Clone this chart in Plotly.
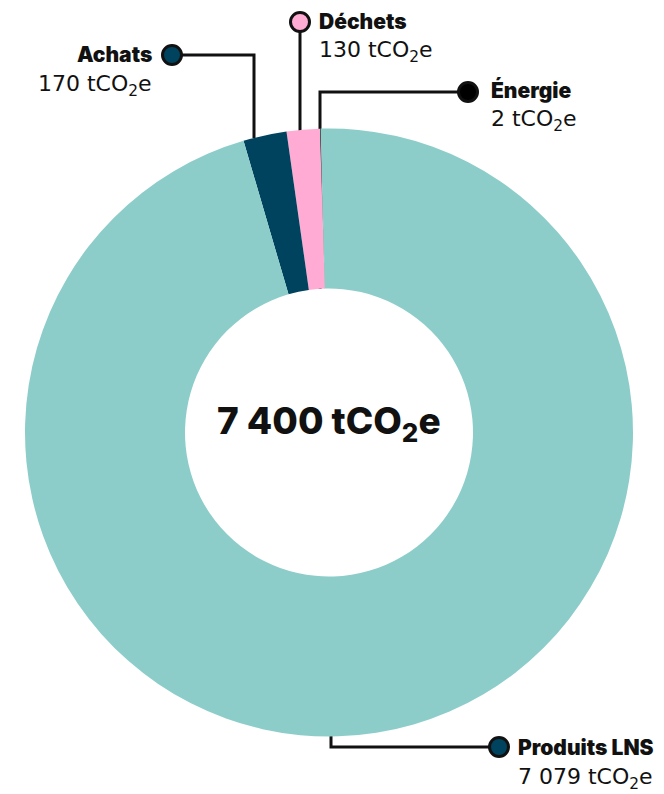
import plotly.graph_objects as go

# ---- data ----
categories = ["Énergie", "Déchets", "Achats", "Produits LNS"]
values = [2, 130, 170, 7079]
value_labels = ["2", "130", "170", "7 079"]
total_label = "7 400"
unit = "tCO<sub>2</sub>e"
colors = ["#000000", "#FFABD3", "#00435E", "#8CCDCA"]
dot_colors = ["#000000", "#FFABD3", "#00435E", "#00435E"]

W, H = 664, 794
cx, cy, R = 329, 432.5, 304
hole = 144 / 304

fig = go.Figure()

fig.add_trace(go.Pie(
    labels=categories, values=values, sort=False,
    direction="counterclockwise", rotation=-1.7,
    hole=hole, textinfo="none", hoverinfo="label+value",
    marker=dict(colors=colors, line=dict(width=0)),
    domain=dict(x=[(cx - R) / W, (cx + R) / W],
                y=[(H - cy - R) / H, (H - cy + R) / H]),
    showlegend=False,
))

# leader lines (pixel layout on an overlay axis)
leaders = {
    "Achats": dict(path=[(254, 138), (254, 55), (172, 55)], dot=(172, 55)),
    "Déchets": dict(path=[(300, 131), (300, 22)], dot=(300, 22)),
    "Énergie": dict(path=[(320, 289), (320, 92), (468, 92)], dot=(468, 92)),
    "Produits LNS": dict(path=[(331, 736), (331, 747), (499, 747)], dot=(499, 747)),
}
for name, ld in leaders.items():
    xs = [p[0] for p in ld["path"]]
    ys = [p[1] for p in ld["path"]]
    fig.add_trace(go.Scatter(x=xs, y=ys, mode="lines",
                             line=dict(color="#111111", width=3),
                             hoverinfo="skip", showlegend=False))
for name, ld in leaders.items():
    col = dot_colors[categories.index(name)]
    fig.add_trace(go.Scatter(x=[ld["dot"][0]], y=[ld["dot"][1]], mode="markers",
                             marker=dict(size=19, color=col,
                                         line=dict(color="#111111", width=3)),
                             hoverinfo="skip", showlegend=False))

bold = dict(family="Inter", size=21, color="#111111", weight=900)
reg = dict(family="DejaVu Sans", size=22, color="#111111", weight=400)

label_pos = {
    "Achats": dict(x=154, y1=54, y2=85, xanchor="right"),
    "Déchets": dict(x=317, y1=21, y2=51, xanchor="left"),
    "Énergie": dict(x=489, y1=90, y2=120, xanchor="left"),
    "Produits LNS": dict(x=516, y1=747, y2=778, xanchor="left"),
}
annotations = []
for name, vl in zip(categories, value_labels):
    lp = label_pos[name]
    annotations.append(dict(x=lp["x"], y=lp["y1"], xref="x", yref="y", text=name,
                            showarrow=False, xanchor=lp["xanchor"], yanchor="middle",
                            font=bold))
    annotations.append(dict(x=lp["x"], y=lp["y2"], xref="x", yref="y",
                            text=f"{vl} {unit}", showarrow=False,
                            xanchor=lp["xanchor"], yanchor="middle", font=reg))

annotations.append(dict(x=cx, y=423, xref="x", yref="y",
                        text=f"{total_label} {unit}", showarrow=False,
                        xanchor="center", yanchor="middle",
                        font=dict(family="Inter", size=37, color="#111111", weight=800)))

fig.update_layout(
    width=W, height=H,
    margin=dict(l=0, r=0, t=0, b=0),
    paper_bgcolor="white", plot_bgcolor="rgba(0,0,0,0)",
    xaxis=dict(range=[0, W], visible=False, fixedrange=True, domain=[0, 1]),
    yaxis=dict(range=[H, 0], visible=False, fixedrange=True, domain=[0, 1]),
    annotations=annotations,
)

fig.write_html("out.html", config={"displayModeBar": False},
               post_script="document.body.style.margin='0';document.body.style.overflow='hidden';")
